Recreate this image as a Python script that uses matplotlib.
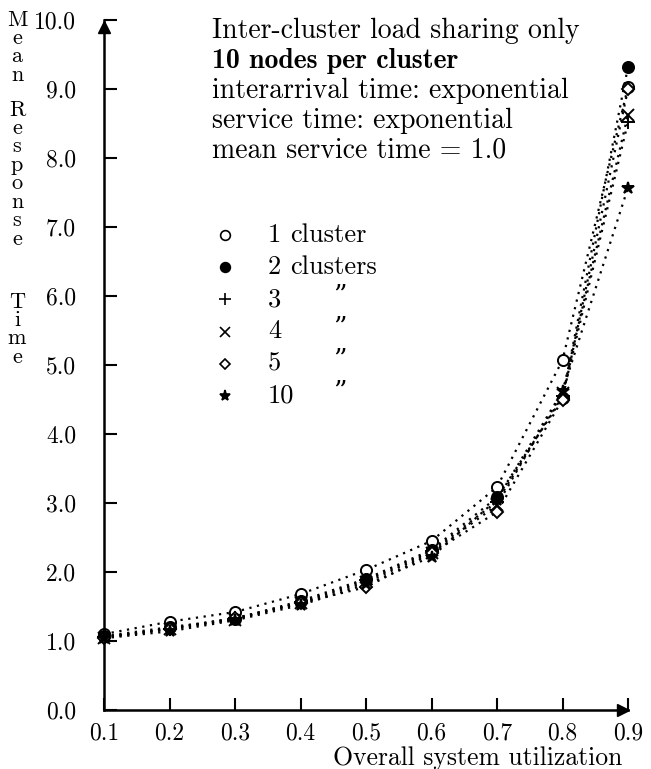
import numpy as np
import matplotlib
matplotlib.use("Agg")
import matplotlib.pyplot as plt

plt.rcParams['font.family'] = ['cmr10', 'DejaVu Serif']
plt.rcParams['axes.unicode_minus'] = False
plt.rcParams['axes.formatter.use_mathtext'] = True

utilization = [0.1, 0.2, 0.3, 0.4, 0.5, 0.6, 0.7, 0.8, 0.9]

# mean response time per number of clusters
resp_1 = [1.10, 1.28, 1.42, 1.68, 2.03, 2.45, 3.23, 5.07, 9.03]
resp_2 = [1.07, 1.20, 1.32, 1.58, 1.90, 2.32, 3.08, 4.52, 9.32]
resp_3 = [1.06, 1.18, 1.33, 1.56, 1.88, 2.30, 3.02, 4.55, 8.52]
resp_4 = [1.05, 1.17, 1.31, 1.55, 1.85, 2.28, 2.97, 4.60, 8.63]
resp_5 = [1.05, 1.18, 1.33, 1.55, 1.78, 2.27, 2.87, 4.50, 9.00]
resp_10 = [1.04, 1.14, 1.30, 1.52, 1.82, 2.22, 3.05, 4.62, 7.57]

series = [resp_1, resp_2, resp_3, resp_4, resp_5, resp_10]
markers = ['o', 'o', '+', 'x', 'D', '*']
fills = ['white', 'black', 'black', 'black', 'white', 'black']
sizes = [8, 8, 10, 8, 6, 9]
legend_nums = ['1', '2', '3', '4', '5', '10']
legend_text = ['cluster', 'clusters', '\u201d', '\u201d', '\u201d', '\u201d']

info_lines = ['Inter-cluster load sharing only',
              '10 nodes per cluster',
              'interarrival time: exponential',
              'service time: exponential',
              'mean service time = 1.0']

yticks = np.arange(0, 10.5, 1.0)

W, H = 651, 769
fig = plt.figure(figsize=(W / 100, H / 100), dpi=100)
ax = fig.add_axes([104 / W, 1 - 710 / H, 524 / W, 690 / H])


def ax_y(py):
    # pixel row -> axes fraction
    return (710 - py) / 690


def ax_x(px):
    return (px - 104) / 524


for vals, m, fc, ms in zip(series, markers, fills, sizes):
    ax.plot(utilization, vals, color='black', linestyle=(0, (1, 2.5)),
            linewidth=1.6, marker=m, markersize=ms, markerfacecolor=fc,
            markeredgecolor='black', markeredgewidth=1.4, clip_on=False)

ax.set_xlim(0.1, 0.9)
ax.set_ylim(0, 10)
ax.set_xticks(utilization)
ax.set_xticklabels([f'{u:.1f}' for u in utilization])
ax.set_yticks(yticks)
ax.set_yticklabels([f'{v:.1f}' for v in yticks])
ax.tick_params(direction='in', length=9, width=1.5, labelsize=17)
ax.tick_params(axis='y', pad=20)
ax.tick_params(axis='x', pad=9)

for s in ['top', 'right']:
    ax.spines[s].set_visible(False)
for s in ['left', 'bottom']:
    ax.spines[s].set_linewidth(1.8)

# arrow heads at the axis ends
ax.plot(0, 0.99, marker='^', color='black', markersize=8, transform=ax.transAxes, clip_on=False)
ax.plot(0.99, 0, marker='>', color='black', markersize=8, transform=ax.transAxes, clip_on=False)

# description block
for i, line in enumerate(info_lines):
    fam = ['cmb10', 'DejaVu Serif'] if i == 1 else ['cmr10', 'DejaVu Serif']
    ax.text(ax_x(212), ax_y(38 + i * 30), line, transform=ax.transAxes,
            fontsize=20, family=fam, va='baseline', ha='left')

# legend drawn by hand
for i in range(len(series)):
    yy = ax_y(235 + i * 32.2)
    ax.plot(ax_x(225), yy, marker=markers[i], markersize=sizes[i] - 1,
            markerfacecolor=fills[i], markeredgecolor='black',
            markeredgewidth=1.2, color='black', transform=ax.transAxes, clip_on=False)
    ax.text(ax_x(268), yy, legend_nums[i], transform=ax.transAxes, fontsize=19,
            va='center', ha='left')
    if i < 2:
        ax.text(ax_x(290), yy, legend_text[i], transform=ax.transAxes,
                fontsize=19, va='center', ha='left')
    else:
        ax.text(ax_x(333), yy + 0.006, legend_text[i], transform=ax.transAxes,
                fontsize=19, va='center', ha='left')

# stacked y label, one letter per row
for word, top in [('Mean', 10), ('Response', 100), ('Time', 292)]:
    fig.text(17 / W, 1 - top / H, '\n'.join(word), fontsize=16,
             ha='center', va='top', linespacing=0.93)

fig.text(622 / W, 1 - 765 / H, 'Overall system utilization', fontsize=18.5,
         ha='right', va='baseline')

fig.savefig('out.png', dpi=100)
